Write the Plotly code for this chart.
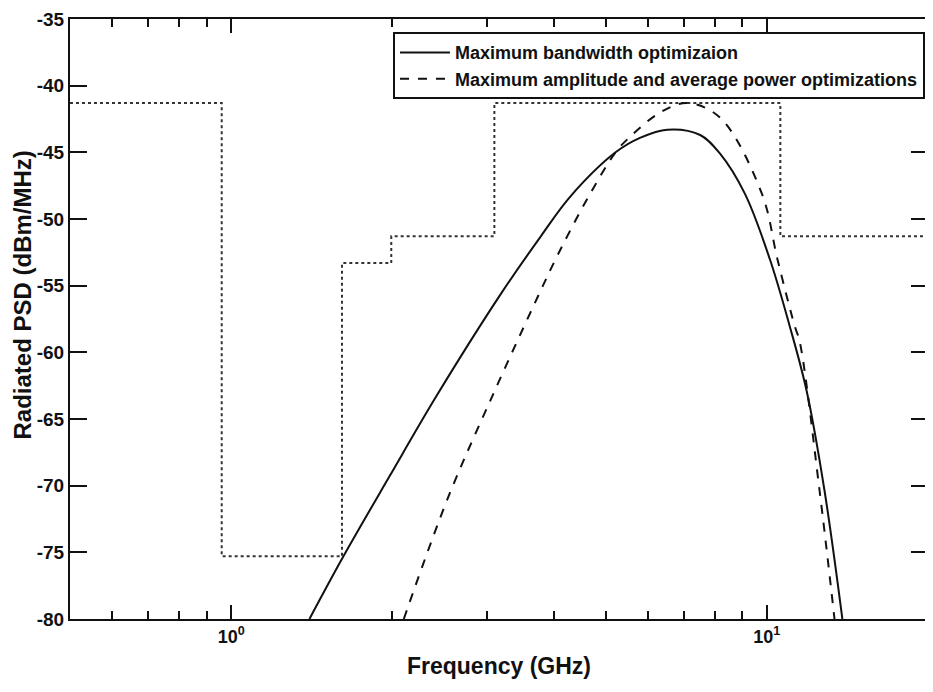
import plotly.graph_objects as go

# ── Data ─────────────────────────────────────────────────────────────────────
# emission mask (dotted step line), GHz / dBm/MHz
mask_freq = [0.5, 0.96, 0.96, 1.61, 1.61, 1.99, 1.99, 3.1, 3.1, 10.6, 10.6, 20.0]
mask_psd = [-41.3, -41.3, -75.3, -75.3, -53.3, -53.3, -51.3, -51.3, -41.3, -41.3, -51.3, -51.3]

# maximum bandwidth optimization (solid)
bw_freq = [1.40, 1.62, 1.975, 2.415, 3.19, 3.785, 4.30, 5.22, 5.81, 6.52, 7.51, 8.18,
           9.10, 10.13, 11.03, 11.87, 12.82, 13.84]
bw_psd = [-80.0, -75.3, -69.3, -63.3, -55.6, -51.3, -48.3, -45.0, -43.9, -43.3, -43.7, -45.1,
          -48.1, -53.0, -58.0, -62.9, -70.4, -80.0]

# maximum amplitude and average power optimizations (dashed)
amp_freq = [2.10, 2.54, 3.095, 3.67, 4.07, 4.65, 5.22, 5.50, 6.33, 7.10, 8.18,
            9.79, 10.48, 11.27, 11.52, 12.55, 13.38]
amp_psd = [-80.0, -70.9, -63.0, -56.5, -52.7, -48.3, -45.0, -44.0, -42.0, -41.3, -42.4,
           -48.1, -53.1, -58.0, -59.2, -70.4, -80.0]

x_major = [1, 10]
x_major_text = ["<b>10<sup>0</sup></b>", "<b>10<sup>1</sup></b>"]
x_minor = [0.6, 0.7, 0.8, 0.9, 2, 3, 4, 5, 6, 7, 8, 9]
y_ticks = list(range(-80, -34, 5))
y_tick_text = [f"<b>{v}</b>" for v in y_ticks]   # plain hyphen, as in the scan

FONT = "Arial, 'Liberation Sans', sans-serif"
INK = "#111"

fig = go.Figure()

fig.add_trace(go.Scatter(
    x=mask_freq, y=mask_psd, mode="lines", showlegend=False,
    line={"color": "#333", "width": 2, "dash": "dot"},
))
fig.add_trace(go.Scatter(
    x=bw_freq, y=bw_psd, mode="lines", name="<b>Maximum bandwidth optimizaion</b>",
    line={"color": INK, "width": 2, "shape": "spline", "smoothing": 1.0},
))
fig.add_trace(go.Scatter(
    x=amp_freq, y=amp_psd, mode="lines",
    name="<b>Maximum amplitude and average power optimizations</b>",
    line={"color": INK, "width": 2, "dash": "dash", "shape": "spline", "smoothing": 1.0},
))

axis_common = {
    "showline": True, "linecolor": INK, "linewidth": 2,
    "mirror": "allticks", "ticks": "inside", "tickcolor": INK,
    "tickwidth": 2, "showgrid": False, "zeroline": False, "automargin": False,
    "ticklabeloverflow": "allow",
}

# the page body adds an 8px offset, so margins are trimmed to land the frame
# where the reference has it
fig.update_layout(
    width=933, height=692,
    paper_bgcolor="white", plot_bgcolor="white",
    margin={"l": 62, "r": 13, "t": 11, "b": 81},
    font={"family": FONT, "color": INK, "size": 15},
    xaxis={
        **axis_common,
        "type": "log",
        "range": [-0.301, 1.301],
        "tickvals": x_major, "ticktext": x_major_text, "ticklen": 14,
        "tickfont": {"size": 18},
        "minor": {"tickvals": x_minor, "ticks": "inside", "ticklen": 8,
                  "tickwidth": 2, "tickcolor": INK, "showgrid": False},
        "title": {"text": "<b>Frequency (GHz)</b>", "font": {"size": 23},
                  "standoff": 12},
    },
    yaxis={
        **axis_common,
        "range": [-80, -35],
        "tickvals": y_ticks, "ticktext": y_tick_text, "ticklen": 17,
        "tickfont": {"size": 19},
    },
    legend={
        "x": 0.9965, "y": 0.978, "xanchor": "right", "yanchor": "top",
        "bgcolor": "white", "bordercolor": INK, "borderwidth": 2,
        "font": {"size": 18},
        "tracegroupgap": 0, "itemwidth": 50,
    },
    annotations=[{
        "text": "<b>Radiated PSD (dBm/MHz)</b>",
        "textangle": -90, "font": {"size": 24},
        "xref": "paper", "yref": "paper",
        "x": -0.0565, "y": 0.54, "xanchor": "center", "yanchor": "middle",
        "showarrow": False,
    }],
)

fig.write_html("out.html")
